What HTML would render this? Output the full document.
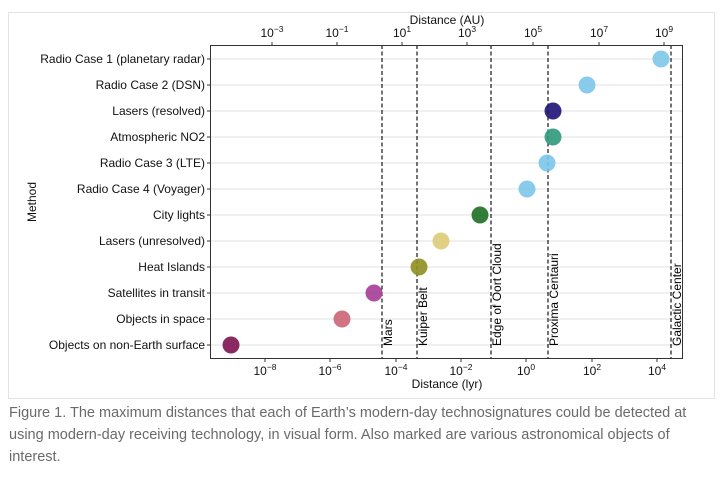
<!DOCTYPE html>
<html><head><style>
body{margin:0;background:#fff;width:727px;height:487px;overflow:hidden;font-family:"Liberation Sans",sans-serif}
.cap{position:absolute;left:9px;top:402px;width:712px;font-size:14.5px;line-height:22px;color:#6a6a6a}
</style></head><body>
<svg width="727" height="400" style="position:absolute;left:0;top:0" font-family="Liberation Sans, sans-serif">
<rect x="8.5" y="12.5" width="706" height="386" fill="none" stroke="#e3e3e3"/>
<g stroke="#e8e8e8" stroke-width="1.2">
<line x1="211" x2="682" y1="59" y2="59"/><line x1="211" x2="682" y1="85" y2="85"/><line x1="211" x2="682" y1="111" y2="111"/><line x1="211" x2="682" y1="137" y2="137"/><line x1="211" x2="682" y1="163" y2="163"/><line x1="211" x2="682" y1="189" y2="189"/><line x1="211" x2="682" y1="215" y2="215"/><line x1="211" x2="682" y1="241" y2="241"/><line x1="211" x2="682" y1="267" y2="267"/><line x1="211" x2="682" y1="293" y2="293"/><line x1="211" x2="682" y1="319" y2="319"/><line x1="211" x2="682" y1="345" y2="345"/>
</g>
<g stroke="#000" stroke-width="1.1" stroke-dasharray="4,2.5">
<line x1="382" x2="382" y1="45" y2="358"/><line x1="417" x2="417" y1="45" y2="358"/><line x1="491" x2="491" y1="45" y2="358"/><line x1="548" x2="548" y1="45" y2="358"/><line x1="671" x2="671" y1="45" y2="358"/>
</g>
<g font-size="12" fill="#000">
<text transform="translate(392,346) rotate(-90)">Mars</text>
<text transform="translate(427,346) rotate(-90)">Kuiper Belt</text>
<text transform="translate(501,346) rotate(-90)">Edge of Oort Cloud</text>
<text transform="translate(558,346) rotate(-90)">Proxima Centauri</text>
<text transform="translate(681,346) rotate(-90)">Galactic Center</text>
</g>
<g opacity="0.9">
<circle cx="661" cy="59" r="8.5" fill="#7cc6ea"/>
<circle cx="587" cy="85" r="8.5" fill="#7cc6ea"/>
<circle cx="553" cy="111" r="8.5" fill="#1f1477"/>
<circle cx="553" cy="137" r="8.5" fill="#2e9a7c"/>
<circle cx="547" cy="163" r="8.5" fill="#7cc6ea"/>
<circle cx="527" cy="189" r="8.5" fill="#7cc6ea"/>
<circle cx="480" cy="215" r="8.5" fill="#1c7022"/>
<circle cx="441" cy="241" r="8.5" fill="#ddcc77"/>
<circle cx="419" cy="267" r="8.5" fill="#8f8f20"/>
<circle cx="374" cy="293" r="8.5" fill="#a83b97"/>
<circle cx="342" cy="319" r="8.5" fill="#cc6677"/>
<circle cx="231" cy="345" r="8.5" fill="#7e1350"/>
</g>
<rect x="210.5" y="45.5" width="472" height="313" fill="none" stroke="#333" stroke-width="1"/>
<g stroke="#333">
<line x1="207" x2="210" y1="59" y2="59"/><line x1="207" x2="210" y1="85" y2="85"/><line x1="207" x2="210" y1="111" y2="111"/><line x1="207" x2="210" y1="137" y2="137"/><line x1="207" x2="210" y1="163" y2="163"/><line x1="207" x2="210" y1="189" y2="189"/><line x1="207" x2="210" y1="215" y2="215"/><line x1="207" x2="210" y1="241" y2="241"/><line x1="207" x2="210" y1="267" y2="267"/><line x1="207" x2="210" y1="293" y2="293"/><line x1="207" x2="210" y1="319" y2="319"/><line x1="207" x2="210" y1="345" y2="345"/>
<line x1="265" x2="265" y1="359" y2="362"/><line x1="330" x2="330" y1="359" y2="362"/><line x1="396" x2="396" y1="359" y2="362"/><line x1="461" x2="461" y1="359" y2="362"/><line x1="526" x2="526" y1="359" y2="362"/><line x1="592" x2="592" y1="359" y2="362"/><line x1="657" x2="657" y1="359" y2="362"/>
<line x1="272" x2="272" y1="42" y2="45"/><line x1="337" x2="337" y1="42" y2="45"/><line x1="402" x2="402" y1="42" y2="45"/><line x1="467" x2="467" y1="42" y2="45"/><line x1="533" x2="533" y1="42" y2="45"/><line x1="599" x2="599" y1="42" y2="45"/><line x1="664" x2="664" y1="42" y2="45"/>
</g>
<g font-size="12" fill="#111" text-anchor="end">
<text x="205" y="63">Radio Case 1 (planetary radar)</text>
<text x="205" y="89">Radio Case 2 (DSN)</text>
<text x="205" y="115">Lasers (resolved)</text>
<text x="205" y="141">Atmospheric NO2</text>
<text x="205" y="167">Radio Case 3 (LTE)</text>
<text x="205" y="193">Radio Case 4 (Voyager)</text>
<text x="205" y="219">City lights</text>
<text x="205" y="245">Lasers (unresolved)</text>
<text x="205" y="271">Heat Islands</text>
<text x="205" y="297">Satellites in transit</text>
<text x="205" y="323">Objects in space</text>
<text x="205" y="349">Objects on non-Earth surface</text>
</g>
<g font-size="12" fill="#111" text-anchor="middle">
<text x="265" y="375">10<tspan font-size="8.5" dy="-5">−8</tspan></text>
<text x="330" y="375">10<tspan font-size="8.5" dy="-5">−6</tspan></text>
<text x="396" y="375">10<tspan font-size="8.5" dy="-5">−4</tspan></text>
<text x="461" y="375">10<tspan font-size="8.5" dy="-5">−2</tspan></text>
<text x="526" y="375">10<tspan font-size="8.5" dy="-5">0</tspan></text>
<text x="592" y="375">10<tspan font-size="8.5" dy="-5">2</tspan></text>
<text x="657" y="375">10<tspan font-size="8.5" dy="-5">4</tspan></text>
<text x="447" y="388">Distance (lyr)</text>
<text x="272" y="37">10<tspan font-size="8.5" dy="-5">−3</tspan></text>
<text x="337" y="37">10<tspan font-size="8.5" dy="-5">−1</tspan></text>
<text x="402" y="37">10<tspan font-size="8.5" dy="-5">1</tspan></text>
<text x="467" y="37">10<tspan font-size="8.5" dy="-5">3</tspan></text>
<text x="533" y="37">10<tspan font-size="8.5" dy="-5">5</tspan></text>
<text x="599" y="37">10<tspan font-size="8.5" dy="-5">7</tspan></text>
<text x="664" y="37">10<tspan font-size="8.5" dy="-5">9</tspan></text>
<text x="447" y="24">Distance (AU)</text>
<text transform="translate(36,202) rotate(-90)">Method</text>
</g>
</svg>
<div class="cap">Figure 1. The maximum distances that each of Earth’s modern-day technosignatures could be detected at using modern-day receiving technology, in visual form. Also marked are various astronomical objects of interest.</div>
</body></html>
